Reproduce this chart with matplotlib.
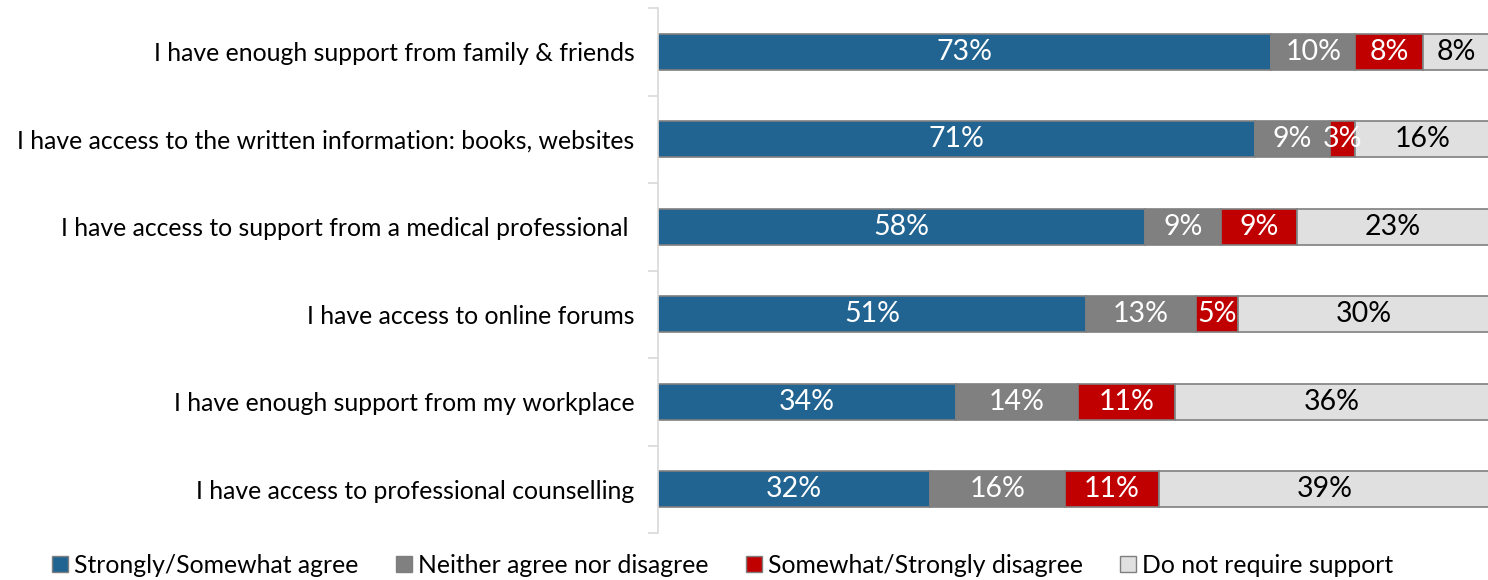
import numpy as np
import matplotlib
matplotlib.use('Agg')
import matplotlib.pyplot as plt
from matplotlib.patches import Patch

plt.rcParams['font.family'] = ['Lato', 'DejaVu Sans']

# survey statements, top to bottom
statements = [
    "I have enough support from family & friends",
    "I have access to the written information: books, websites",
    "I have access to support from a medical professional ",
    "I have access to online forums",
    "I have enough support from my workplace",
    "I have access to professional counselling",
]
responses = ["Strongly/Somewhat agree", "Neither agree nor disagree",
             "Somewhat/Strongly disagree", "Do not require support"]

agree = [73, 71, 58, 51, 34, 32]
neither = [10, 9, 9, 13, 14, 16]
disagree = [8, 3, 9, 5, 11, 11]
no_need = [8, 16, 23, 30, 36, 39]

colors = ["#216491", "#808080", "#C00000", "#E0E0E0"]
text_colors = ["white", "white", "white", "black"]

fig = plt.figure(figsize=(14.88, 5.8), dpi=100)
ax = fig.add_axes([0.4422, 0.081, 0.559, 0.905])

vals = np.array([agree, neither, disagree, no_need], dtype=float)
shares = vals / vals.sum(axis=0) * 100  # 100% stacked rows
y = np.arange(len(statements))
left = np.zeros(len(statements))
for i in range(4):
    ax.barh(y, shares[i], left=left, height=0.41, color=colors[i],
            edgecolor="#7F7F7F", linewidth=1.2)
    for j in range(len(statements)):
        ax.text(left[j] + shares[i][j] / 2, y[j], "%d%%" % vals[i][j],
                ha="center", va="center", fontsize=20.5, color=text_colors[i])
    left += shares[i]

ax.set_xlim(0, 100)
ax.set_ylim(len(statements) - 0.5, -0.5)
ax.set_yticks(y)
ax.set_yticklabels(statements, fontsize=17.8)
ax.set_yticks(np.arange(-0.5, len(statements), 1), minor=True)
ax.tick_params(axis="y", which="major", length=0, pad=17)
ax.tick_params(axis="y", which="minor", length=7, color="#D9D9D9", width=1.2)
ax.set_xticks([])
for s in ["top", "right", "bottom"]:
    ax.spines[s].set_visible(False)
ax.spines["left"].set_color("#D9D9D9")
ax.spines["left"].set_linewidth(1.2)

handles = [Patch(facecolor=c, edgecolor="#7F7F7F") for c in colors]
fig.legend(handles, responses, loc="lower left", bbox_to_anchor=(0.02, -0.033),
           ncol=4, frameon=False, fontsize=17.8, handlelength=0.65,
           handleheight=0.65, handletextpad=0.25, columnspacing=1.5)

fig.savefig("out.png", dpi=100)
